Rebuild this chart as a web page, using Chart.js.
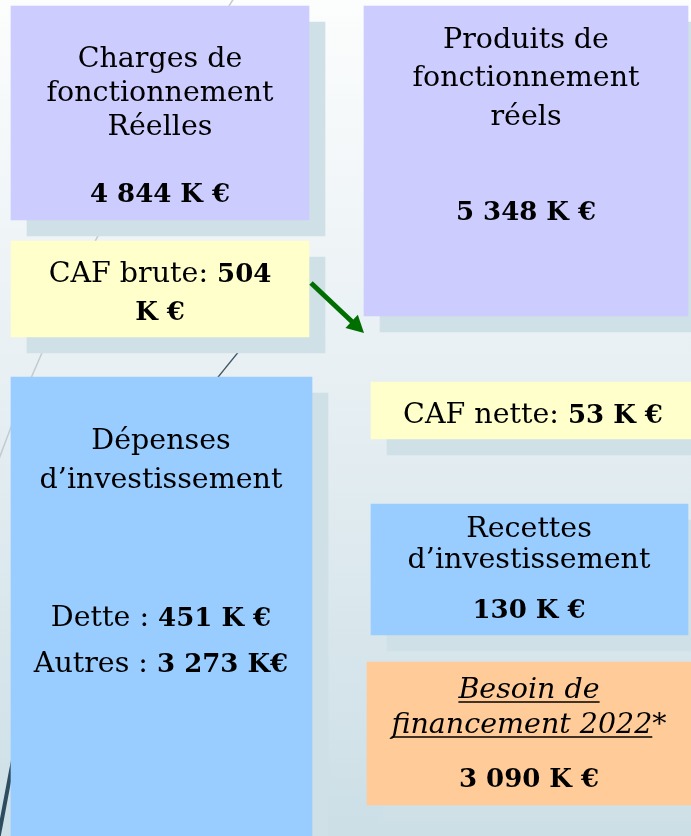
<!DOCTYPE html>
<html>
<head>
<meta charset="utf-8">
<script src="https://cdn.jsdelivr.net/npm/chart.js@4/dist/chart.umd.min.js"></script>
<style>
  html, body { margin: 0; padding: 0; background: #fff; }
  #wrap { width: 691px; height: 836px; position: relative; }
</style>
</head>
<body>
<div id="wrap"><canvas id="schema"></canvas></div>
<script>
// données (K €)
const postes = ['Charges de fonctionnement Réelles', 'Produits de fonctionnement réels', 'CAF brute', 'CAF nette',
                'Dette', 'Autres', 'Recettes d’investissement', 'Besoin de financement 2022*'];
const montants = [4844, 5348, 504, 53, 451, 3273, 130, 3090];

// mise en page des cadres (en pixels de la diapo) : [x0, x1, y0, y1]
const cadres = [
  [11, 309, 6, 220],     // charges
  [364, 688, 6, 316],    // produits
  [11, 309, 241, 337],   // caf brute
  [371, 700, 382, 439],  // caf nette
  [11, 312, 377, 840],   // dépenses
  [371, 688, 504, 635],  // recettes
  [367, 700, 662, 805]   // besoin
];
const couleurs = ['#CCCCFF', '#CCCCFF', '#FFFFCC', '#FFFFCC', '#99CCFF', '#99CCFF', '#FFCC99'];
const ombre = '#CFE0E6';
const decalage = 16;

function fmt(v) {
  return String(v).replace(/\B(?=(\d{3})+(?!\d))/g, ' ');
}
const ke = v => fmt(v) + ' K €';

// textes : [cadre, baseline, [[texte, style], ...]]   style: n normal, b gras, i italique souligné, s italique
const textes = [
  [0, 67, [['Charges de', 'n']]],
  [0, 101, [['fonctionnement', 'n']]],
  [0, 135, [['Réelles', 'n']]],
  [0, 202, [[ke(montants[0]), 'b']]],
  [1, 48, [['Produits de', 'n']]],
  [1, 86, [['fonctionnement', 'n']]],
  [1, 125, [['réels', 'n']]],
  [1, 220, [[ke(montants[1]), 'b']]],
  [2, 282, [['CAF brute: ', 'n'], [fmt(montants[2]), 'b']]],
  [2, 320, [['K €', 'b']]],
  [3, 423, [['CAF nette: ', 'n'], [ke(montants[3]), 'b']]],
  [4, 449, [['Dépenses', 'n']]],
  [4, 488, [['d’investissement', 'n']]],
  [4, 626, [['Dette : ', 'n'], [ke(montants[4]), 'b']]],
  [4, 672, [['Autres : ', 'n'], [fmt(montants[5]) + ' K€', 'b']]],
  [5, 537, [['Recettes', 'n']]],
  [5, 568, [['d’investissement', 'n']]],
  [5, 618, [[ke(montants[6]), 'b']]],
  [6, 698, [['Besoin de', 'i']]],
  [6, 733, [['financement 2022', 'i'], ['*', 's']]],
  [6, 787, [[ke(montants[7]), 'b']]]
];
const centresX = [160, 526, 160, 533, 161, 529, 529];

const police = {
  n: '28.5px "DejaVu Serif"',
  b: 'bold 26px "DejaVu Serif"',
  i: 'italic 28.5px "DejaVu Serif"',
  s: 'italic 28.5px "DejaVu Serif"'
};

// jeux de barres flottantes : cadres (devant) puis ombres (derrière)
const datasets = [];
cadres.forEach((c, k) => {
  datasets.push({
    label: postes[k],
    data: [{ x: [c[0], c[1]], y: (c[2] + c[3]) / 2 }],
    backgroundColor: couleurs[k],
    barThickness: c[3] - c[2],
    stack: 'cadres',
    order: 1
  });
  datasets.push({
    label: 'ombre ' + postes[k],
    data: [{ x: [c[0] + decalage, c[1] + decalage], y: (c[2] + c[3]) / 2 + decalage }],
    backgroundColor: ombre,
    barThickness: c[3] - c[2],
    stack: 'cadres',
    order: 2
  });
});

const fond = {
  id: 'fond',
  beforeDraw(chart) {
    const { ctx, width, height, scales: { x, y } } = chart;
    ctx.save();
    const g = ctx.createLinearGradient(0, 0, 0, height);
    g.addColorStop(0, '#FCFDFD');
    g.addColorStop(0.5, '#E5EEF2');
    g.addColorStop(1, '#CCDFE6');
    ctx.fillStyle = g;
    ctx.fillRect(0, 0, width, height);
    // lignes décoratives du thème
    ctx.strokeStyle = '#C4CBCF';
    ctx.lineWidth = 1.5;
    ctx.beginPath();
    ctx.moveTo(x.getPixelForValue(234), y.getPixelForValue(-2));
    ctx.quadraticCurveTo(x.getPixelForValue(70), y.getPixelForValue(260), x.getPixelForValue(-5), y.getPixelForValue(470));
    ctx.stroke();
    ctx.strokeStyle = '#3F5563';
    ctx.lineWidth = 1.2;
    ctx.beginPath();
    ctx.moveTo(x.getPixelForValue(240), y.getPixelForValue(350));
    ctx.lineTo(x.getPixelForValue(210), y.getPixelForValue(387));
    ctx.stroke();
    ctx.strokeStyle = '#2E4C5F';
    ctx.lineWidth = 4;
    ctx.beginPath();
    ctx.moveTo(x.getPixelForValue(14), y.getPixelForValue(755));
    ctx.lineTo(x.getPixelForValue(-2), y.getPixelForValue(840));
    ctx.stroke();
    ctx.restore();
  }
};

const etiquettes = {
  id: 'etiquettes',
  afterDatasetsDraw(chart) {
    const { ctx, scales: { x, y } } = chart;
    ctx.save();
    // flèche verte
    const x0 = x.getPixelForValue(311), y0 = y.getPixelForValue(283);
    const x1 = x.getPixelForValue(364), y1 = y.getPixelForValue(333);
    const a = Math.atan2(y1 - y0, x1 - x0);
    ctx.strokeStyle = '#006E00';
    ctx.fillStyle = '#006E00';
    ctx.lineWidth = 5;
    ctx.beginPath();
    ctx.moveTo(x0, y0);
    ctx.lineTo(x1 - 12 * Math.cos(a), y1 - 12 * Math.sin(a));
    ctx.stroke();
    ctx.beginPath();
    ctx.moveTo(x1, y1);
    ctx.lineTo(x1 - 17 * Math.cos(a) + 9 * Math.sin(a), y1 - 17 * Math.sin(a) - 9 * Math.cos(a));
    ctx.lineTo(x1 - 17 * Math.cos(a) - 9 * Math.sin(a), y1 - 17 * Math.sin(a) + 9 * Math.cos(a));
    ctx.closePath();
    ctx.fill();

    ctx.fillStyle = '#000';
    ctx.strokeStyle = '#000';
    ctx.textBaseline = 'alphabetic';
    ctx.textAlign = 'left';
    textes.forEach(([k, by, segs]) => {
      let total = 0;
      const w = segs.map(([t, s]) => { ctx.font = police[s]; const m = ctx.measureText(t).width; total += m; return m; });
      let cx = x.getPixelForValue(centresX[k]) - total / 2;
      const py = y.getPixelForValue(by);
      segs.forEach(([t, s], j) => {
        ctx.font = police[s];
        ctx.fillText(t, cx, py);
        if (s === 'i') {
          ctx.lineWidth = 1.5;
          ctx.beginPath();
          ctx.moveTo(cx, py + 4);
          ctx.lineTo(cx + w[j], py + 4);
          ctx.stroke();
        }
        cx += w[j];
      });
    });
    ctx.restore();
  }
};

new Chart(document.getElementById('schema'), {
  type: 'bar',
  data: { labels: [], datasets },
  options: {
    indexAxis: 'y',
    responsive: true,
    maintainAspectRatio: false,
    animation: false,
    layout: { padding: 0 },
    plugins: { legend: { display: false }, tooltip: { enabled: false } },
    scales: {
      x: { type: 'linear', min: 0, max: 691, display: false, stacked: false, offset: false },
      y: { type: 'linear', min: 0, max: 836, reverse: true, display: false, stacked: true, offset: false }
    }
  },
  plugins: [fond, etiquettes]
});
</script>
</body>
</html>
